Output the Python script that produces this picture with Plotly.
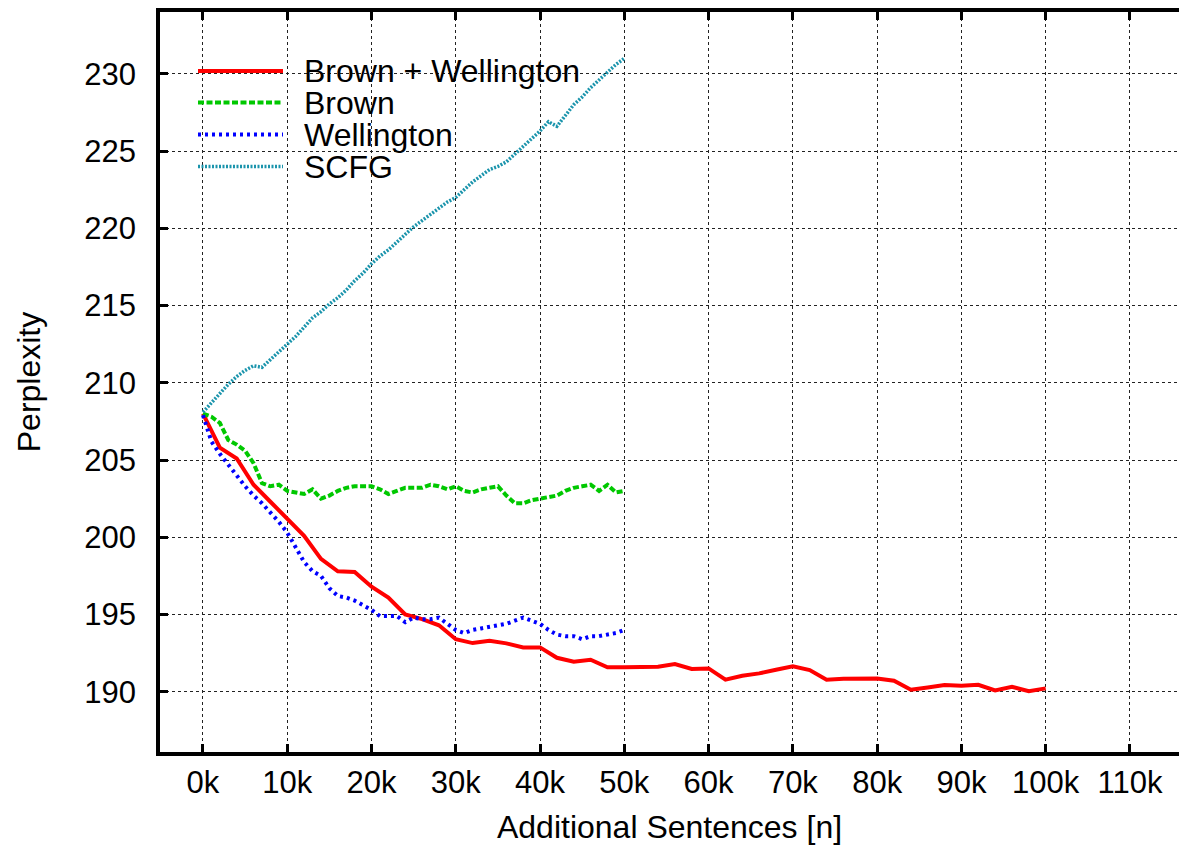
import plotly.graph_objects as go

# ---------------- data ----------------
red_x = list(range(0, 101, 2))
red_y = [208.0, 205.8, 205.1, 203.4, 202.3, 201.2, 200.1, 198.6, 197.8, 197.75,
         196.8, 196.1, 195.0, 194.7, 194.3, 193.4, 193.15, 193.3, 193.13, 192.87,
         192.87, 192.2, 191.94, 192.07, 191.58, 191.58, 191.62, 191.62, 191.79, 191.47,
         191.51, 190.78, 191.04, 191.19, 191.42, 191.64, 191.40, 190.78, 190.84, 190.86,
         190.86, 190.71, 190.13, 190.28, 190.43, 190.39, 190.45, 190.09, 190.32, 190.04,
         190.22]

brown_x = list(range(0, 51))
brown_y = [208.0, 207.8, 207.4, 206.3, 206.0, 205.6, 204.8, 203.5, 203.3, 203.4,
           203.0, 202.9, 202.8, 203.1, 202.5, 202.7, 203.0, 203.2, 203.3, 203.3,
           203.3, 203.1, 202.8, 203.0, 203.2, 203.2, 203.2, 203.4, 203.3, 203.1,
           203.3, 203.0, 202.9, 203.1, 203.2, 203.3, 202.7, 202.2, 202.2, 202.4,
           202.5, 202.6, 202.7, 203.0, 203.2, 203.3, 203.4, 203.0, 203.4, 202.9,
           203.0]

well_x = list(range(0, 51))
well_y = [207.9, 206.2, 205.4, 204.7, 203.9, 203.3, 202.7, 202.2, 201.6, 201.0,
          200.3, 199.3, 198.4, 197.8, 197.5, 196.7, 196.2, 196.1, 195.9, 195.6,
          195.3, 194.9, 194.9, 194.9, 194.5, 194.8, 194.7, 194.7, 194.8, 194.4,
          194.0, 193.8, 194.0, 194.1, 194.2, 194.3, 194.4, 194.6, 194.8, 194.6,
          194.4, 194.0, 193.7, 193.6, 193.6, 193.4, 193.6, 193.6, 193.7, 193.8,
          194.0]

scfg_x = list(range(0, 51))
scfg_y = [208.1, 208.7, 209.3, 209.9, 210.4, 210.8, 211.1, 211.0, 211.5, 212.0,
          212.5, 213.0, 213.6, 214.2, 214.6, 215.1, 215.5, 216.0, 216.6, 217.1,
          217.7, 218.2, 218.6, 219.1, 219.6, 220.1, 220.5, 220.9, 221.3, 221.7,
          222.0, 222.5, 223.0, 223.4, 223.8, 224.0, 224.3, 224.8, 225.3, 225.8,
          226.3, 226.9, 226.6, 227.3, 228.0, 228.5, 229.1, 229.6, 230.1, 230.6,
          231.0]

x_ticks = list(range(0, 111, 10))
x_tick_labels = [f"{v}k" for v in x_ticks]
y_ticks = list(range(190, 231, 5))

names = ["Brown + Wellington", "Brown", "Wellington", "SCFG"]
colors = ["#ff0000", "#00c800", "#0000ff", "#1a94ac"]
dashes = ["solid", "6px,2.5px", "3px,4px", "2px,1.5px"]
widths = [4, 4, 4, 3.5]

FONT = "Liberation Sans, Arial, Helvetica, sans-serif"
FS_TICK = 31
FS_TEXT = 32

fig = go.Figure()
series = [(red_x, red_y), (brown_x, brown_y), (well_x, well_y), (scfg_x, scfg_y)]
for (xs, ys), n, c, d, w in zip(series, names, colors, dashes, widths):
    fig.add_trace(go.Scatter(x=xs, y=ys, mode="lines", name=n,
                             line=dict(color=c, dash=d, width=w),
                             showlegend=False))

# page has an 8px body margin; figure is offset by it
OFF = 8
W, H = 1171, 837
L, T = 152, 4
ph = 740
B = H - T - ph
R = 0
pw = W - L - R

def px_to_paper(px, py):
    # px, py in page pixels
    return (px - OFF - L) / pw, 1 - (py - OFF - T) / ph

# legend background box (above grid, below traces)
x0, y0 = px_to_paper(172, 183)
x1, y1 = px_to_paper(645, 55)
fig.add_shape(type="rect", xref="paper", yref="paper", x0=x0, y0=y0, x1=x1, y1=y1,
              fillcolor="white", line=dict(width=0), layer="between")

leg_rows = [71, 102.5, 134.5, 166.5]
for n, c, d, w, ry in zip(names, colors, dashes, widths, leg_rows):
    lx0, ly = px_to_paper(198, ry)
    lx1, _ = px_to_paper(283, ry)
    fig.add_shape(type="line", xref="paper", yref="paper", x0=lx0, x1=lx1, y0=ly, y1=ly,
                  line=dict(color=c, dash=d, width=w), layer="above")
    tx, _ = px_to_paper(302, ry)
    fig.add_annotation(xref="paper", yref="paper", x=tx, y=ly, text=n, showarrow=False,
                       xanchor="left", yanchor="middle",
                       font=dict(family=FONT, size=FS_TEXT, color="black"))

axis_common = dict(
    showline=True, linecolor="black", linewidth=3.5,
    ticks="inside", ticklen=8, tickwidth=3, tickcolor="black",
    showgrid=True, gridcolor="#222222", griddash="dot", gridwidth=1,
    zeroline=False,
    tickfont=dict(family=FONT, size=FS_TICK, color="black"),
)

# x range: page px 160 -> -5.1k ; 8.427 px per k
x_left = -5.1
x_right = x_left + pw / 8.427
fig.update_xaxes(range=[x_left, x_right], tickmode="array", tickvals=x_ticks,
                 ticktext=x_tick_labels, mirror="ticks",
                 title=dict(text="Additional Sentences [n]", standoff=23,
                            font=dict(family=FONT, size=FS_TEXT, color="black")),
                 **axis_common)
fig.update_yaxes(range=[186.1, 234.0], tickmode="array", tickvals=y_ticks,
                 mirror=False, ticklabelstandoff=14,
                 title=dict(text="Perplexity", standoff=35,
                            font=dict(family=FONT, size=FS_TEXT, color="black")),
                 **axis_common)

fig.update_layout(width=W, height=H,
                  margin=dict(l=L, r=R, t=T, b=B, pad=0, autoexpand=False),
                  paper_bgcolor="white", plot_bgcolor="white",
                  font=dict(family=FONT, size=FS_TEXT, color="black"))

fig.write_html("out.html")
